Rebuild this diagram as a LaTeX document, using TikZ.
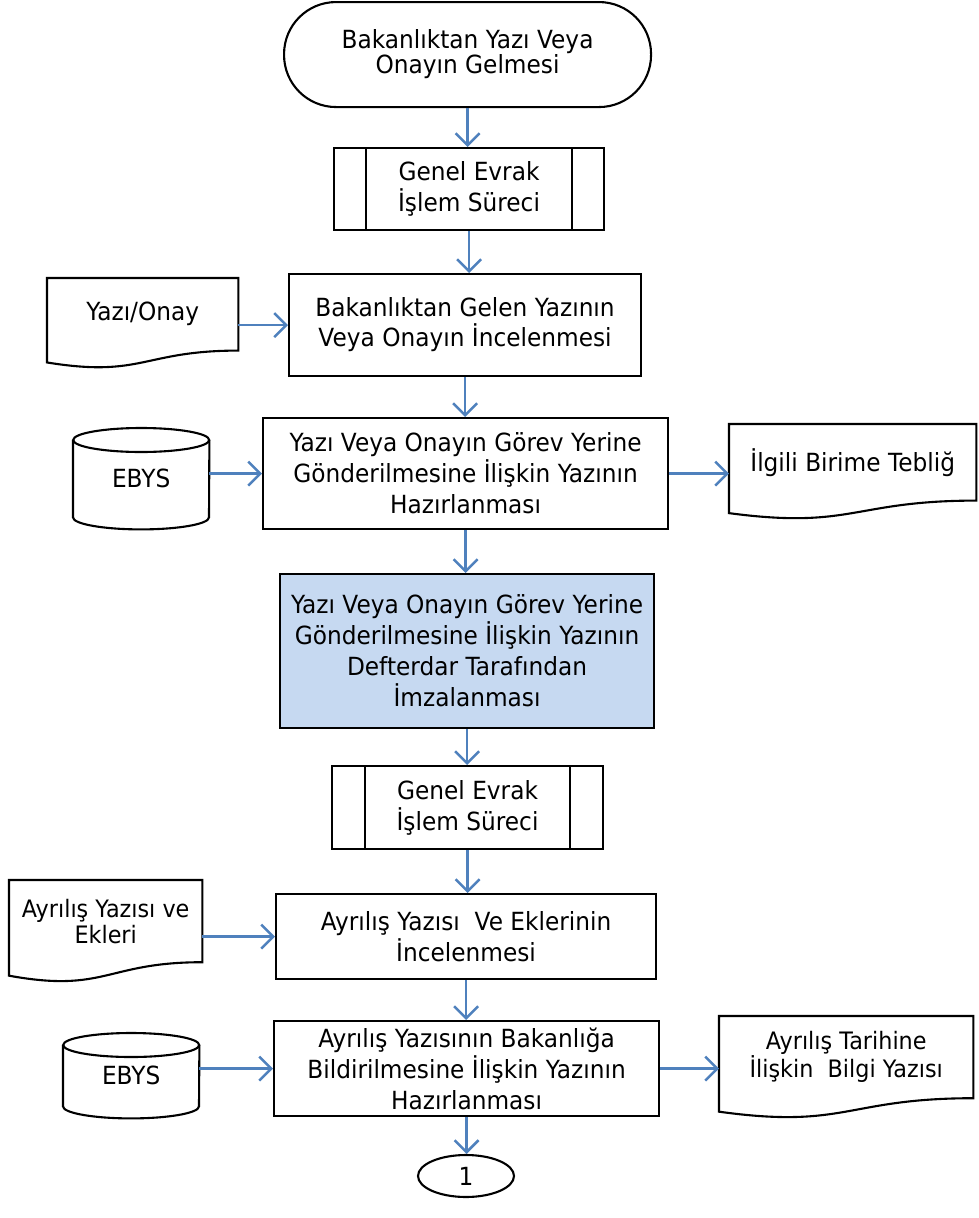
\documentclass[tikz,border=0pt]{standalone}
\usepackage{fontspec}
\setmainfont{DejaVu Sans}[FakeStretch=0.93]
\usetikzlibrary{arrows.meta,shapes.geometric}
\definecolor{arrowblue}{RGB}{79,129,189}
\definecolor{boxblue}{RGB}{198,217,241}
\tikzset{
  box/.style={draw=black, line width=2.1pt, inner sep=0pt, align=center, anchor=north west, font=\fontsize{25}{31}\selectfont},
  docnode/.style={inner sep=0pt, align=center, anchor=north west, font=\fontsize{24}{26}\selectfont},
  shapeline/.style={draw=black, line width=2.1pt},
  arr/.style={draw=arrowblue, line width=2.5pt, -{Straight Barb[length=12pt,width=24pt]}},
}
% document shape: name, x left, y top, width, height, text
\newcommand{\mydoc}[6]{%
  \node[docnode, minimum width=#4pt, minimum height={0.802*#5pt}] (#1) at (#2,#3) {#6};
  \draw[shapeline] ([yshift={-0.132*#5pt}]#1.south west) -- (#1.north west) -- (#1.north east) -- (#1.south east)
    .. controls (#1.south) and ([yshift={-0.305*#5pt}]#1.south) .. ([yshift={-0.132*#5pt}]#1.south west) -- cycle;
}
% cylinder: name, x left, y top, width, height
\newcommand{\mycyl}[5]{%
  \node[inner sep=0pt, anchor=north west, minimum width=#4pt, minimum height={#5pt-12pt}, font=\fontsize{25}{28}\selectfont] (#1) at (#2,#3+12) {EBYS};
  \draw[shapeline] (#1.north west) -- (#1.south west) arc[start angle=180, end angle=360, x radius={#4pt/2}, y radius=12pt] -- (#1.north east);
  \draw[shapeline] (#1.north) ellipse[x radius={#4pt/2}, y radius=12pt];
}
% predefined process inner lines: name, offset
\newcommand{\ppl}[2]{%
  \draw[shapeline] ([xshift=#2pt]#1.north west) -- ([xshift=#2pt]#1.south west);
  \draw[shapeline] ([xshift=-#2pt]#1.north east) -- ([xshift=-#2pt]#1.south east);
}
\begin{document}
\begin{tikzpicture}[x=1pt, y=-1pt]
\fill[white] (0,0) rectangle (978,1218);
\useasboundingbox (0,0) rectangle (978,1218);

\node[box, rounded corners=52pt, minimum width=367pt, minimum height=105pt, font=\fontsize{25}{25}\selectfont] (term) at (283,1) {Bakanlıktan Yazı Veya\\Onayın Gelmesi};

\node[box, minimum width=270pt, minimum height=82pt] (pp1) at (333,147) {Genel Evrak\\İşlem Süreci};
\ppl{pp1}{33}

\node[box, minimum width=352pt, minimum height=102pt, font=\fontsize{25}{30}\selectfont] (boxB) at (288,273) {Bakanlıktan Gelen Yazının\\Veya Onayın İncelenmesi};
\mydoc{docA}{47}{278}{191}{90}{\fontsize{25}{28}\selectfont Yazı/Onay}

\node[box, minimum width=405pt, minimum height=111pt] (boxC) at (262,417) {Yazı Veya Onayın Görev Yerine\\Gönderilmesine İlişkin Yazının\\Hazırlanması};
\mycyl{eb1}{73}{428}{136}{89}
\mydoc{docB}{729}{424}{247}{95}{\fontsize{25}{28}\selectfont İlgili Birime Tebliğ}

\node[box, fill=boxblue, minimum width=374pt, minimum height=154pt] (boxD) at (279,573) {Yazı Veya Onayın Görev Yerine\\Gönderilmesine İlişkin Yazının\\Defterdar Tarafından\\İmzalanması};

\node[box, minimum width=271pt, minimum height=83pt] (pp2) at (331,765) {Genel Evrak\\İşlem Süreci};
\ppl{pp2}{34}

\node[box, minimum width=380pt, minimum height=85pt] (boxE) at (275,893) {Ayrılış Yazısı~ Ve Eklerinin\\İncelenmesi};
\mydoc{docC}{9}{880}{193}{102}{Ayrılış Yazısı ve\\Ekleri}

\node[box, minimum width=385pt, minimum height=95pt] (boxF) at (273,1020) {Ayrılış Yazısının Bakanlığa\\Bildirilmesine İlişkin Yazının\\Hazırlanması};
\mycyl{eb2}{63}{1033}{136}{73}
\mydoc{docD}{719}{1016}{254}{102}{Ayrılış Tarihine\\İlişkin~ Bilgi Yazısı}

\node[draw=black, line width=2.1pt, ellipse, inner sep=0pt, minimum width=96pt, minimum height=42pt, font=\fontsize{25}{28}\selectfont] (conn) at (466,1176) {1};

% connectors
\draw[arr] (term.south) -- (term.south |- pp1.north);
\draw[arr] (pp1.south) -- (pp1.south |- boxB.north);
\draw[arr] (docA.east |- boxB.west) -- (boxB.west);
\draw[arr] (boxB.south) -- (boxB.south |- boxC.north);
\draw[arr] (eb1.east |- boxC.west) -- (boxC.west);
\draw[arr] (boxC.east) -- (boxC.east -| docB.west);
\draw[arr] (boxC.south) -- (boxC.south |- boxD.north);
\draw[arr] (boxD.south) -- (boxD.south |- pp2.north);
\draw[arr] (pp2.south) -- (pp2.south |- boxE.north);
\draw[arr] (docC.east |- boxE.west) -- (boxE.west);
\draw[arr] (boxE.south) -- (boxE.south |- boxF.north);
\draw[arr] (eb2.east |- boxF.west) -- (boxF.west);
\draw[arr] (boxF.east) -- (boxF.east -| docD.west);
\draw[arr] (boxF.south) -- (boxF.south |- conn.north);
\end{tikzpicture}
\end{document}
